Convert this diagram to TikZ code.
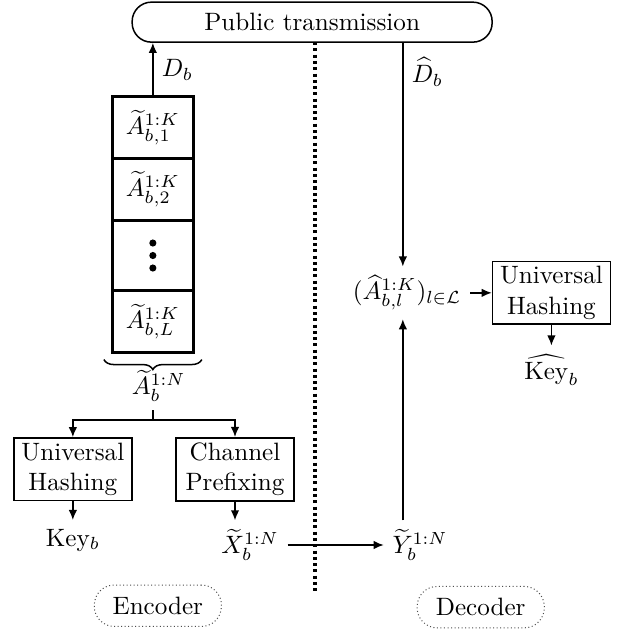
\documentclass[tikz,border=0pt]{standalone}
\usepackage{amsmath, amssymb}
\usepackage{tikz}
\usetikzlibrary{arrows.meta, positioning, calc, decorations.pathreplacing}

\begin{document}
\begin{tikzpicture}[
    >={Latex[length=4pt,width=3.4pt]},
    cell/.style={draw, semithick, minimum width=1.11cm, inner sep=0pt},
    blk/.style={draw, semithick, align=center, minimum width=1.65cm, minimum height=0.84cm, inner sep=2pt},
    tag/.style={draw=black!70, densely dotted, rounded corners=0.28cm, minimum width=1.78cm, minimum height=0.58cm}
  ]
  \useasboundingbox (0,0) rectangle (8.75,-8.89);

  % Public channel
  \node[draw, semithick, rounded corners=0.27cm, minimum width=5.04cm, minimum height=0.56cm] (pub) at (4.37,-0.31) {Public transmission};
  \draw[line width=1.2pt, dash pattern=on 1.2pt off 1.3pt] (4.41,-0.59) -- (4.41,-8.29);

  % Encoder
  \node[cell, minimum height=0.85cm] (c1) at (2.14,-1.785) {$\widetilde{A}_{b,1}^{1:K}$};
  \node[cell, minimum height=0.84cm, below=0pt of c1] (c2) {$\widetilde{A}_{b,2}^{1:K}$};
  \node[cell, minimum height=0.97cm, below=0pt of c2] (c3) {};
  \node[cell, minimum height=0.84cm, below=0pt of c3] (c4) {$\widetilde{A}_{b,L}^{1:K}$};
  \foreach \dy in {-0.175,0,0.175}
    \fill ([yshift=\dy cm]c3.center) circle (0.05);
  \draw[line width=1.1pt] (c1.north west) rectangle (c4.south east);

  \draw[->, semithick] (c1.north) -- node[right] {$D_b$} (c1.north |- pub.south);

  \draw[decorate, decoration={brace, mirror, amplitude=0.14cm}, semithick] ([xshift=-1.2mm,yshift=-1mm]c4.south west) -- ([xshift=1.2mm,yshift=-1mm]c4.south east);
  \node (anb) at (2.22,-5.40) {$\widetilde{A}_b^{1:N}$};

  \node[blk] (uh) at (1.02,-6.57) {Universal\\Hashing};
  \node[blk] (cp) at (3.29,-6.57) {Channel\\Prefixing};
  \coordinate (split) at (2.14,-5.88);
  \draw[semithick] (anb.south -| split) -- (split);
  \draw[->, semithick] (split) -| (uh.north);
  \draw[->, semithick] (split) -| (cp.north);

  \node (key) at (1.02,-7.56) {Key$_b$};
  \node (xt) at (3.50,-7.63) {$\widetilde{X}_b^{1:N}$};
  \draw[->, semithick] (uh) -- (key);
  \draw[->, semithick] (cp) -- (cp |- xt.north);

  % Decoder
  \coordinate (col) at (5.64,0);
  \node (yt) at (5.88,-7.63) {$\widetilde{Y}_b^{1:N}$};
  \node (ahat) at (5.70,-4.10) {$(\widehat{A}_{b,l}^{1:K})_{l\in\mathcal{L}}$};
  \node[blk] (uh2) at (7.72,-4.10) {Universal\\Hashing};
  \node (khat) at (7.72,-5.18) {$\widehat{\mathrm{Key}}_b$};

  \draw[->, semithick] (xt) -- (yt);
  \draw[->, semithick] (yt.north -| col) -- (ahat.south -| col);
  \draw[->, semithick] (pub.south -| col) -- node[pos=0.13, right] {$\widehat{D}_b$} (ahat.north -| col);
  \draw[->, semithick] (ahat) -- (uh2);
  \draw[->, semithick] (uh2) -- (khat);

  % Tags
  \node[tag] (enc) at (2.21,-8.48) {Encoder};
  \node[tag] (dec) at (6.73,-8.50) {Decoder};
\end{tikzpicture}
\end{document}
